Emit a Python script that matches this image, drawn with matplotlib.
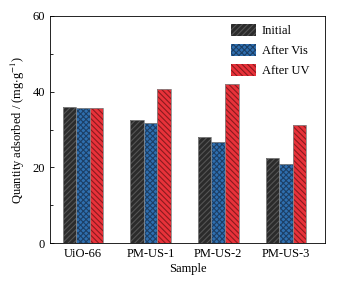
import matplotlib
matplotlib.use("Agg")
import matplotlib.pyplot as plt
import numpy as np

plt.rcParams['font.family'] = ['Liberation Serif', 'DejaVu Serif']
plt.rcParams['mathtext.fontset'] = 'stix'
plt.rcParams['hatch.linewidth'] = 0.8

samples = ["UiO-66", "PM-US-1", "PM-US-2", "PM-US-3"]
initial = [36.0, 32.4, 28.1, 22.5]
after_vis = [35.7, 31.6, 26.6, 21.0]
after_uv = [35.6, 40.6, 41.9, 31.2]

fig = plt.figure(figsize=(3.43, 2.84), dpi=100)
ax = fig.add_axes([50 / 343, 41 / 284, 275 / 343, 227 / 284])

x = np.arange(len(samples))
w = 0.2
series = [
    (initial, "Initial", "#2b2b2b", "#555555", "//////"),
    (after_vis, "After Vis", "#2f6fb0", "#1c3f66", "xxxxxx"),
    (after_uv, "After UV", "#e8323a", "#8a1a1e", "\\\\\\\\\\\\"),
]
for i, (vals, lab, fc, hc, hatch) in enumerate(series):
    ax.bar(x + (i - 1) * w, vals, w, color=fc, label=lab,
           hatch=hatch, edgecolor=hc, linewidth=0)
    # gray outline on top
    ax.bar(x + (i - 1) * w, vals, w, fill=False, edgecolor="#888888", linewidth=0.6)

ax.set_xlim(-0.49, 3.58)
ax.set_ylim(0, 60)
ax.set_yticks([0, 20, 40, 60])
ax.set_yticks([10, 30, 50], minor=True)
ax.set_xticks(x)
ax.set_xticklabels(samples)
ax.tick_params(axis="both", direction="in", labelsize=9, length=3, width=0.6)
ax.tick_params(axis="y", which="minor", direction="in", length=2, width=0.6)
ax.tick_params(axis="x", length=0)
for s in ax.spines.values():
    s.set_linewidth(0.6)

ax.set_xlabel("Sample", fontsize=9, labelpad=2)
ax.set_ylabel("Quantity adsorbed / (mg$\\cdot$g$^{-1}$)", fontsize=9, labelpad=4)

handles, labels = ax.get_legend_handles_labels()
ax.legend(handles, labels, loc="upper right", frameon=False, fontsize=9,
          handlelength=2.0, handleheight=1.1, borderaxespad=0.2,
          labelspacing=0.55, handletextpad=0.5, bbox_to_anchor=(0.97, 1.0))

fig.savefig("out.png", dpi=100)
